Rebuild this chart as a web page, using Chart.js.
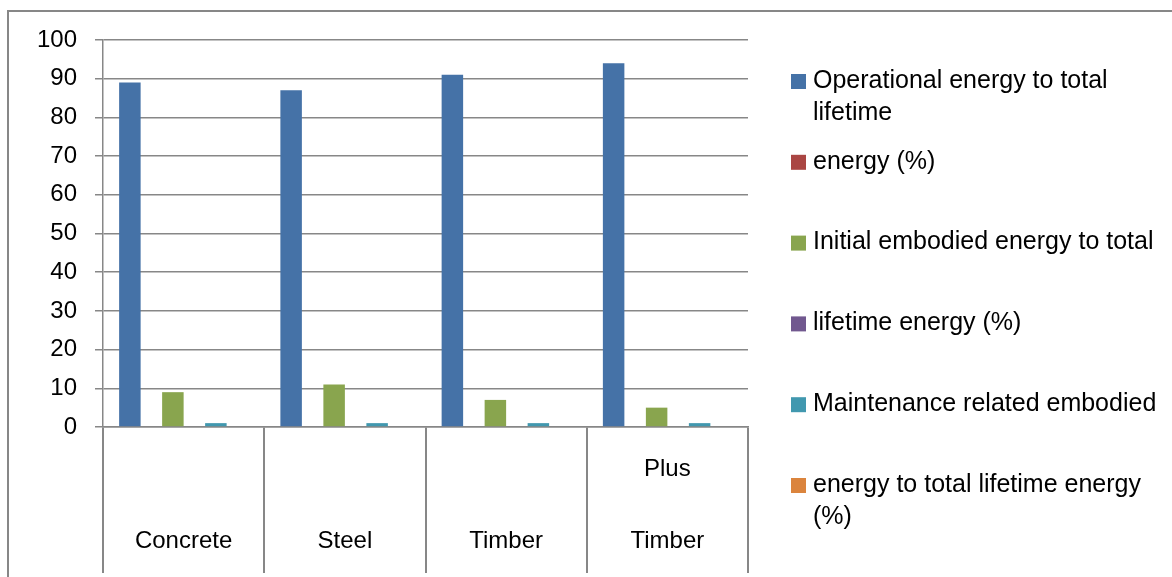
<!DOCTYPE html>
<html><head><meta charset="utf-8">
<script src="https://cdn.jsdelivr.net/npm/chart.js@4/dist/chart.umd.min.js"></script>
<style>html,body{margin:0;padding:0;background:#fff;overflow:hidden}#wrap{width:1172px;height:577px;position:relative}</style>
</head><body><div id="wrap"><canvas id="c" width="1172" height="577"></canvas></div>
<script>
const categories = ["Concrete", "Steel", "Timber", "Plus Timber"];
const seriesNames = [
  ["Operational energy to total", "lifetime"],
  ["energy (%)"],
  ["Initial embodied energy to total"],
  ["lifetime energy (%)"],
  ["Maintenance related embodied"],
  ["energy to total lifetime energy", "(%)"]
];
const seriesColors = ["#4572A7", "#AA4643", "#89A54E", "#71588F", "#4198AF", "#DB843D"];
const operationalShare = [89, 87, 91, 94];
const series2Values = [null, null, null, null];
const initialEmbodiedShare = [9, 11, 7, 5];
const series4Values = [null, null, null, null];
const maintenanceShare = [1, 1, 1, 1];
const series6Values = [null, null, null, null];
const yMin = 0, yMax = 100, yStep = 10;

const FONT = '"Liberation Sans", Arial, sans-serif';
const GRID = '#878787';
const allValues = [operationalShare, series2Values, initialEmbodiedShare, series4Values, maintenanceShare, series6Values];

const framePlugin = {
  id: 'frame',
  beforeDraw(chart) {
    const c = chart.ctx; c.save();
    c.fillStyle = '#fff'; c.fillRect(0, 0, chart.width, chart.height);
    c.strokeStyle = GRID; c.lineWidth = 2;
    c.strokeRect(8, 11, 1400, 800);
    c.restore();
  }
};
const legendPlugin = {
  id: 'sideLegend',
  afterDraw(chart) {
    const c = chart.ctx; c.save();
    c.font = '25px ' + FONT; c.textBaseline = 'middle'; c.textAlign = 'left';
    chart.data.datasets.forEach((ds, i) => {
      const y0 = 81 + i * 80.8;
      c.fillStyle = ds.backgroundColor; c.fillRect(791, y0 - 7, 15, 15);
      c.fillStyle = '#000';
      seriesNames[i].forEach((t, j) => c.fillText(t, 813, y0 + j * 32.5));
    });
    c.restore();
  }
};

new Chart(document.getElementById('c'), {
  type: 'bar',
  data: {
    labels: categories,
    datasets: allValues.map((vals, i) => ({
      label: seriesNames[i].join(' '),
      data: vals,
      backgroundColor: seriesColors[i],
      borderWidth: 0,
      barPercentage: 1,
      categoryPercentage: 0.8
    }))
  },
  options: {
    responsive: false, animation: false, devicePixelRatio: 1,
    layout: { padding: { left: 0, top: 40, right: 424, bottom: 0 } },
    plugins: { legend: { display: false }, tooltip: { enabled: false } },
    scales: {
      y: {
        min: yMin, max: yMax,
        ticks: { stepSize: yStep, color: '#000', font: { family: FONT, size: 24 }, padding: 18 },
        grid: { color: GRID, lineWidth: 1.5, tickLength: 8 },
        border: { color: GRID, width: 1.5 },
        afterFit(s) { s.width = 103; }
      },
      x: {
        grid: { drawOnChartArea: false, offset: true, tickLength: 146, color: GRID, lineWidth: 2 },
        border: { color: GRID, width: 1.5 },
        ticks: {
          color: '#000', font: { family: FONT, size: 24, lineHeight: 3 }, padding: -140,
          maxRotation: 0, autoSkip: false,
          callback(v, i) { const p = categories[i].split(' '); return p.length > 1 ? p : ['', p[0]]; }
        },
        afterFit(s) { s.height = 150; }
      }
    }
  },
  plugins: [framePlugin, legendPlugin]
});
</script></body></html>
